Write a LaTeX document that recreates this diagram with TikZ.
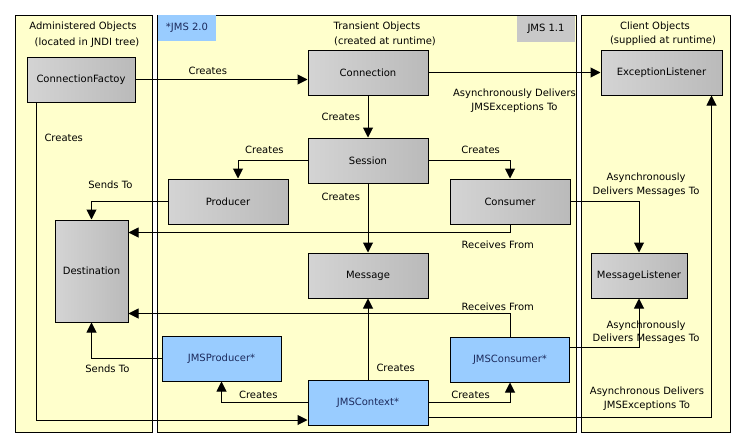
\documentclass[tikz,border=0pt]{standalone}
\usepackage{fontspec}
\setmainfont{DejaVu Sans}
\usetikzlibrary{positioning, arrows.meta}

\definecolor{paneyellow}{HTML}{FFFFCC}
\definecolor{graylight}{HTML}{D4D4D4}
\definecolor{graydark}{HTML}{BABABA}
\definecolor{jmsblue}{HTML}{99CCFF}
\definecolor{jmstext}{HTML}{1C2A5C}
\definecolor{taggray}{HTML}{C8C8C8}

\begin{document}
\begin{tikzpicture}[
        x=1pt, y=-1pt,
        font=\fontsize{10}{13.5}\selectfont,
        panel/.style={draw, line width=1pt, fill=paneyellow},
        gbox/.style={draw, line width=1pt, left color=graylight, right color=graydark, minimum width=120pt, minimum height=45pt, inner sep=2pt},
        bbox/.style={draw, line width=1pt, fill=jmsblue, text=jmstext, minimum width=119pt, minimum height=45pt, inner sep=2pt},
        tag/.style={minimum width=58pt, minimum height=26pt, inner sep=2pt},
        lbl/.style={align=center, inner sep=1pt},
        arrow/.style={-{Triangle[length=10pt, width=10pt]}, line width=1pt},
    ]
        \useasboundingbox (0,0) rectangle (744,447);

        % the three areas
        \draw[panel] (15,15) rectangle (152,432);
        \draw[panel] (157,15) rectangle (576,432);
        \draw[panel] (581,15) rectangle (730,432);

        \node[tag, fill=jmsblue, text=jmstext] (jms20) at (187,28) {*JMS 2.0};
        \node[tag, fill=taggray] (jms11) at (546,28.5) {JMS 1.1};

        \node (admhead) at (83,27) {Administered Objects};
        \node (admsub) at (87,43) {(located in JNDI tree)};
        \node (trhead) at (377,27) {Transient Objects};
        \node (trsub) at (385,41) {(created at runtime)};
        \node (clhead) at (655,27) {Client Objects};
        \node (clsub) at (663,41) {(supplied at runtime)};

        % objects
        \node[gbox, minimum width=108pt] (cf) at (81,79.5) {ConnectionFactoy};
        \node[gbox] (conn) at (368,72.5) {Connection};
        \node[gbox, minimum width=121pt, right=172pt of conn] (exl) {ExceptionListener};
        \node[gbox, below=42pt of conn] (sess) {Session};
        \node[gbox] (prod) at (228,201.5) {Producer};
        \node[gbox, right=161pt of prod] (cons) {Consumer};
        \node[gbox, minimum width=73pt, minimum height=102pt] (dest) at (91.5,271) {Destination};
        \node[gbox, below=69pt of sess] (msg) {Message};
        \node[gbox, minimum width=96pt, right=162pt of msg] (ml) {MessageListener};
        \node[bbox] (jprod) at (221.5,358.5) {JMSProducer*};
        \node[bbox, below=112pt of cons] (jcons) {JMSConsumer*};
        \node[bbox, minimum width=120pt, below=81pt of msg] (jctx) {JMSContext*};

        % JMS 1.1
        \draw[arrow] (cf.east) -- node[lbl, above=3pt, pos=0.42] {Creates} (cf.east -| conn.west);
        \draw[arrow] (conn.east) -- node[lbl, below=15pt] {Asynchronously Delivers\\JMSExceptions To} (exl.west);
        \draw[arrow] (conn) -- node[lbl, left=6.5pt] {Creates} (sess);
        \draw[arrow] (sess.west) -| node[lbl, above=5pt, pos=0.31] {Creates} ([xshift=10pt]prod.north);
        \draw[arrow] (sess.east) -| node[lbl, above=5pt, pos=0.32] {Creates} (cons.north);
        \draw[arrow] (sess) -- node[lbl, left=6.5pt, pos=0.19] {Creates} (msg);
        \draw[arrow] (prod.west) -| node[lbl, above=11pt, pos=0.376] {Sends To} (dest.north);
        \draw[arrow] (cons.south) |- node[lbl, below=7pt, pos=0.516] {Receives From} ([yshift=-13pt]dest.north east);
        \draw[arrow] (cons.east) -| node[lbl, above=3.5pt, xshift=7pt] {Asynchronously\\Delivers Messages To} (ml.north);

        % JMS 2.0
        \draw[arrow] ([xshift=-45pt]cf.south) |- node[lbl, right=7pt, pos=0.056] {Creates} ([yshift=-17.5pt]jctx.west);
        \draw[arrow] (jcons.north) |- node[lbl, above=1pt, pos=0.516] {Receives From} ([yshift=9pt]dest.south east);
        \draw[arrow] (jprod.west) -| node[lbl, below=5pt, pos=0.387] {Sends To} (dest.south);
        \draw[arrow] (jctx) -- node[lbl, right=7pt, pos=0.148] {Creates} (msg);
        \draw[arrow] (jctx.west) -| node[lbl, above=2pt, pos=0.286] {Creates} (jprod.south);
        \draw[arrow] (jctx.east) -| node[lbl, above=2pt, pos=0.258] {Creates} (jcons.south);
        \draw[arrow] ([yshift=12pt]jcons.east) -| node[lbl, above=2pt, xshift=7pt] {Asynchronously\\Delivers Messages To} (ml.south);
        \draw[arrow] ([yshift=-15pt]jctx.east) -| node[lbl, above=5.5pt, pos=0.386] {Asynchronous Delivers\\JMSExceptions To} ([xshift=50pt]exl.south);
    \end{tikzpicture}
\end{document}
